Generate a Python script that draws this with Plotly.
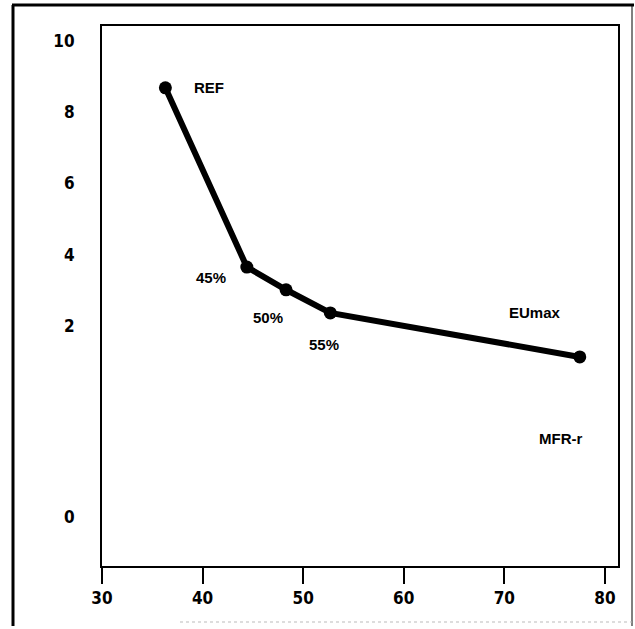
import plotly.graph_objects as go

# data
x_vals = [36.3, 44.4, 48.3, 52.7, 77.5]
y_vals = [8.69, 3.65, 3.01, 2.36, 1.12]
point_labels = ["REF", "45%", "50%", "55%", "EUmax"]

x_tickvals = [30, 40, 50, 60, 70, 80]
x_ticktext = ["30", "40", "50", "60", "70", "80"]
y_tickvals = [-3.38, 2, 4, 6, 8, 10]
y_ticktext = ["0", "2", "4", "6", "8", "10"]

FONT = "DejaVu Sans Condensed, Liberation Sans Narrow, sans-serif"
LFONT = "Liberation Sans, Arial, sans-serif"

fig = go.Figure()
fig.add_trace(go.Scatter(
    x=x_vals, y=y_vals, mode="lines+markers",
    line=dict(color="black", width=6),
    marker=dict(color="black", size=13),
    showlegend=False, hoverinfo="skip"))

# point labels with pixel offsets
offsets = [(27, 0, "left"), (-36, 10, "center"), (-18, 28, "center"), (-6, 32, "center"), (-45, -44, "center")]
for xv, yv, t, (ax, ay, al) in zip(x_vals, y_vals, point_labels, offsets):
    fig.add_annotation(x=xv, y=yv, text=t, showarrow=False, xshift=ax, yshift=-ay,
                       xanchor=al,
                       font=dict(family=LFONT, size=15, color="black", weight="bold"))

fig.add_annotation(x=75.6, y=-1.16, text="MFR-r", showarrow=False,
                   font=dict(family=LFONT, size=15, color="black", weight="bold"))

fig.update_xaxes(range=[30, 81.3], tickvals=x_tickvals, ticktext=x_ticktext,
                 showline=True, mirror=True, linecolor="black", linewidth=2,
                 ticks="outside", ticklen=16, tickwidth=2, tickcolor="black",
                 showgrid=False, zeroline=False,
                 tickfont=dict(family=FONT, size=17, color="black", weight="bold"))
fig.update_yaxes(range=[-4.76, 10.43], tickvals=y_tickvals, ticktext=y_ticktext,
                 showline=True, mirror=True, linecolor="black", linewidth=2,
                 ticks="", showgrid=False, zeroline=False, ticklabelstandoff=22,
                 tickfont=dict(family=FONT, size=17, color="black", weight="bold"))

# outer frame (paper coords)
L, R, T, B = 102, 17, 26, 63
W, H = 635 - L - R, 629 - T - B
def px(x): return (x - L) / W
def py(y): return (629 - B - y) / H
fig.add_shape(type="line", xref="paper", yref="paper", x0=px(13), x1=px(13), y0=py(5), y1=py(626),
              line=dict(color="black", width=3), layer="above")
fig.add_shape(type="line", xref="paper", yref="paper", x0=px(12), x1=px(634), y0=py(5), y1=py(5),
              line=dict(color="black", width=3), layer="above")
fig.add_shape(type="line", xref="paper", yref="paper", x0=px(632), x1=px(632), y0=py(5), y1=py(626),
              line=dict(color="black", width=1), layer="above")
fig.add_shape(type="line", xref="paper", yref="paper", x0=px(180), x1=px(632), y0=py(622), y1=py(622),
              line=dict(color="#bbbbbb", width=1, dash="dot"))

fig.update_layout(width=635, height=629, margin=dict(l=L, r=R, t=T, b=B),
                  paper_bgcolor="white", plot_bgcolor="white")
fig.write_html("out.html", config={"displayModeBar": False},
               post_script="document.body.style.margin='0';document.body.style.overflow='hidden';")
